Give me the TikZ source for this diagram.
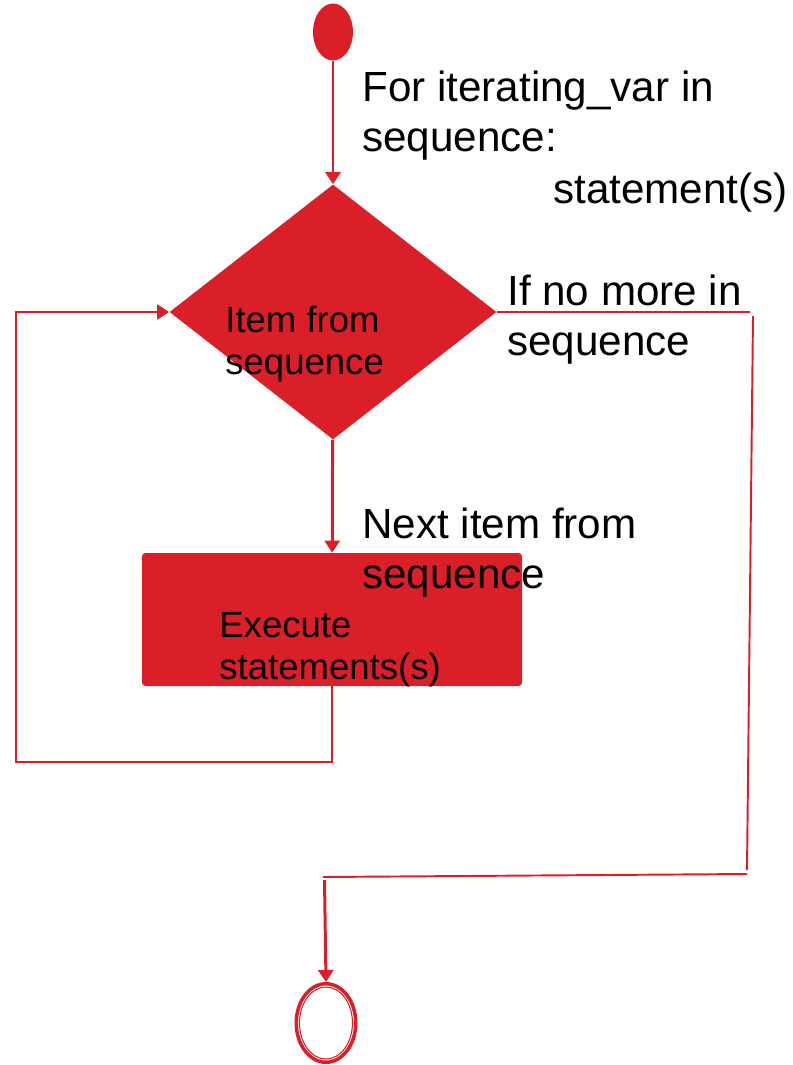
\documentclass[tikz,border=0pt]{standalone}
\usepackage{fontspec}
\setmainfont{Liberation Sans}
\usetikzlibrary{shapes.geometric,arrows.meta}
\definecolor{rojo}{RGB}{218,31,40}

\begin{document}
\begin{tikzpicture}[node distance=1.3cm,>={Triangle[length=0.24cm,width=0.3cm]}]
  \tikzstyle{inicio}=[ellipse,fill=rojo,minimum width=0.8cm,minimum height=1.14cm,inner sep=0]
  \tikzstyle{decision}=[diamond,fill=rojo,minimum width=6.54cm,minimum height=5.1cm,inner sep=0]
  \tikzstyle{bloque}=[rectangle,fill=rojo,rounded corners=2pt,minimum width=7.6cm,minimum height=2.66cm]
  \tikzstyle{fin}=[ellipse,draw=rojo,line width=2pt,minimum width=1.19cm,minimum height=1.57cm,inner sep=0]
  \tikzstyle{finin}=[ellipse,draw=rojo,line width=0.6pt,minimum width=1.06cm,minimum height=1.44cm,inner sep=0]
  \tikzstyle{texto}=[anchor=base west,inner sep=0,align=left,font=\fontsize{24}{28}\selectfont]
  \tikzstyle{textoin}=[anchor=base west,inner sep=0,align=left,font=\fontsize{20.8}{23.5}\selectfont]
  \tikzstyle{flecha}=[->,draw=rojo,line width=1.7pt]
  \tikzstyle{linea}=[draw=rojo,line width=1.1pt]

  \useasboundingbox (0,0) rectangle (15.84,-21.3);

  \begin{scope}

    \node [inicio] (start) at (6.66,-0.64) {};

    \node [decision] (dia) [below of=start,yshift=-4.3cm] {};

    \node [bloque] (box) [below of=dia,yshift=-4.85cm,xshift=-0.02cm] {};

    \node [fin] (stop) [below of=box,yshift=-6.77cm,xshift=-0.12cm] {};
    \node [finin] (stopin) at (stop) {};

    \node [texto] (t1) at (7.24,-3.02) {For iterating\_var in\\sequence:};
    \node [texto] (t2) at (11.06,-4.06) {statement(s)};
    \node [texto] (t3) at (10.14,-7.10) {If no more in\\sequence};
    \node [texto] (t4) at (7.24,-11.76) {Next item from\\sequence};
    \node [textoin] (t5) at (4.5,-7.48) {Item from\\sequence};
    \node [textoin] (t6) at (4.38,-13.58) {Execute\\statements(s)};

    \coordinate (ll) at (0.32,-15.24);
    \coordinate (rt) at (15.0,-6.24);
    \coordinate (rv1) at (15.06,-6.32);
    \coordinate (rv2) at (14.94,-17.40);
    \coordinate (rh1) at (14.94,-17.48);
    \coordinate (rh2) at (6.46,-17.54);
    \coordinate (rd) at (6.49,-17.60);

    \draw [flecha] (start) -- (dia);
    \draw [flecha] (dia) -- (box);
    \draw [flecha,line width=1.1pt] (box.south) |- (ll) |- (dia.west);
    \draw [linea] (dia.east) -- (rt);
    \draw [linea] (rv1) -- (rv2);
    \draw [linea] (rh1) -- (rh2);
    \draw [flecha] (rd) -- (stop.north);
  \end{scope}
\end{tikzpicture}
\end{document}
